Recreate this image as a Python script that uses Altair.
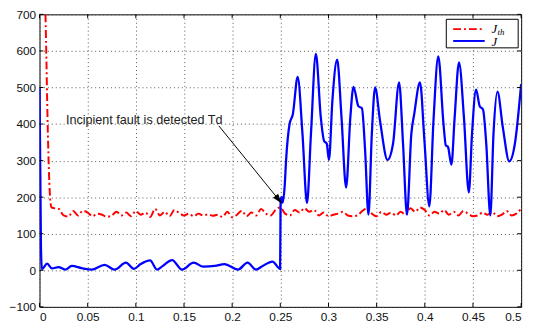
import altair as alt
import pandas as pd

# ---- data ----
jth_x = [0.0062, 0.0072, 0.0082, 0.0092, 0.0102, 0.0112, 0.0125,
         0.015, 0.02, 0.025, 0.03, 0.035, 0.04, 0.045, 0.05, 0.055, 0.06,
         0.065, 0.07, 0.075, 0.08, 0.085, 0.09, 0.095, 0.1, 0.105, 0.11,
         0.115, 0.12, 0.125, 0.13, 0.135, 0.14, 0.145, 0.15, 0.155, 0.16,
         0.165, 0.17, 0.175, 0.18, 0.185, 0.19, 0.195, 0.2, 0.205, 0.21,
         0.215, 0.22, 0.225, 0.23, 0.235, 0.24, 0.245, 0.25, 0.255, 0.26,
         0.265, 0.27, 0.275, 0.28, 0.285, 0.29, 0.295, 0.3, 0.305, 0.31,
         0.315, 0.32, 0.325, 0.33, 0.335, 0.34, 0.345, 0.35, 0.355, 0.36,
         0.365, 0.37, 0.375, 0.38, 0.385, 0.39, 0.395, 0.4, 0.405, 0.41,
         0.415, 0.42, 0.425, 0.43, 0.435, 0.44, 0.445, 0.45, 0.455, 0.46,
         0.465, 0.47, 0.475, 0.48, 0.485, 0.49, 0.495, 0.5]
jth_y = [700, 570, 430, 320, 240, 190, 172,
         170, 168, 150, 147, 162, 150, 163, 158, 148, 155,
         152, 146, 150, 160, 150, 158, 148, 162, 152, 158,
         146, 168, 150, 160, 148, 165, 157, 150, 155, 148,
         155, 150, 153, 149, 152, 146, 160, 145, 152, 163,
         148, 158, 150, 168, 155, 150, 165, 172, 155, 150,
         165, 158, 170, 160, 165, 150, 158, 148, 152, 155,
         160, 150, 148, 150, 162, 170, 155, 148, 160, 152,
         158, 150, 160, 152, 170, 160, 172, 165, 150, 160,
         155, 165, 152, 160, 150, 162, 155, 148, 150, 158,
         152, 160, 148, 152, 162, 150, 155, 168]

j_x = [0, 0.0015, 0.0025, 0.0079, 0.013, 0.0198, 0.0266, 0.0335, 0.0437,
       0.054, 0.0676, 0.078, 0.0898, 0.098, 0.105, 0.1148, 0.122, 0.127,
       0.1376, 0.148, 0.16, 0.17, 0.182, 0.192, 0.206, 0.216, 0.2247,
       0.2316, 0.2418, 0.2498, 0.2503, 0.2515, 0.2525, 0.2545, 0.256,
       0.2596, 0.263, 0.268, 0.273, 0.2777, 0.2818, 0.2869, 0.292, 0.2954,
       0.2982, 0.3005, 0.304, 0.309, 0.3135, 0.3183, 0.3227, 0.326, 0.331,
       0.3347, 0.338, 0.3415, 0.345, 0.3484, 0.3535, 0.3613, 0.367, 0.3733,
       0.3774, 0.3815, 0.386, 0.389, 0.395, 0.3996, 0.4047, 0.409, 0.414,
       0.4194, 0.4218, 0.424, 0.4276, 0.431, 0.4355, 0.4406, 0.4457, 0.449,
       0.4532, 0.457, 0.4604, 0.4638, 0.468, 0.4713, 0.4754, 0.481, 0.4877,
       0.4935, 0.5]
j_y = [500, 60, 3, 18, 5, 9, 2, 12, 6,
       2, 15, 2, 21, 4, 17, 27, 2, 10,
       28, 2, 21, 10, 12, 17, 2, 21, 2,
       12, 24, 4, 195, 200, 185, 230, 302,
       400, 427, 529, 373, 184, 373, 592, 419, 354,
       346, 302, 462, 576, 419, 226, 419, 502, 449,
       443, 329, 152, 373, 500, 409, 302, 346, 514,
       346, 152, 373, 427, 514, 355, 175, 409, 585,
       400, 342, 338, 289, 419, 569, 419, 213, 373,
       494, 449, 440, 346, 150, 373, 489, 391, 298,
       346, 509]

x_ticks = [0, 0.05, 0.1, 0.15, 0.2, 0.25, 0.3, 0.35, 0.4, 0.45, 0.5]
y_ticks = [-100, 0, 100, 200, 300, 400, 500, 600, 700]

annot_text = ["Incipient fault is detected Td"]
annot_pos = [0.0274, 411]
arrow_from = [0.1862, 395]
arrow_to = [0.2515, 183]

W, H = 489, 297

xs = alt.Scale(domain=[0, 0.5], nice=False, zero=False)
ys = alt.Scale(domain=[-100, 700], nice=False, zero=False)

lab = dict(labelFont="Liberation Sans", labelFontSize=12, labelColor="#111",
           grid=True, gridDash=[1, 3], gridColor="#555", gridWidth=1,
           ticks=False, domain=False, title=None)
xaxis = alt.Axis(values=x_ticks, format="~g", labelPadding=5, **lab)
yaxis = alt.Axis(values=y_ticks, format="d", labelPadding=4, **lab)


def X(f="t"):
    return alt.X(f + ":Q", scale=xs, axis=xaxis)


def Y(f="v"):
    return alt.Y(f + ":Q", scale=ys, axis=yaxis)


df_th = pd.DataFrame({"t": jth_x, "v": jth_y})
df_j = pd.DataFrame({"t": j_x, "v": j_y})
df_xt = pd.DataFrame({"t": x_ticks})
df_yt = pd.DataFrame({"v": y_ticks})
one = pd.DataFrame({"a": [0]})

red = alt.Chart(df_th).mark_line(
    color="#ff0000", strokeWidth=2, strokeDash=[8, 3, 2, 3],
    interpolate="monotone", clip=True
).encode(x=X(), y=Y())

blue = alt.Chart(df_j).mark_line(
    color="#0000ff", strokeWidth=2.3, interpolate="monotone", clip=True
).encode(x=X(), y=Y())

# inward ticks on all four sides
xt_b = alt.Chart(df_xt).mark_rule(color="black", strokeWidth=1).encode(
    x=X(), y=alt.value(H), y2=alt.value(H - 4))
xt_t = alt.Chart(df_xt).mark_rule(color="black", strokeWidth=1).encode(
    x=X(), y=alt.value(0), y2=alt.value(4))
yt_l = alt.Chart(df_yt).mark_rule(color="black", strokeWidth=1).encode(
    y=Y(), x=alt.value(0), x2=alt.value(4))
yt_r = alt.Chart(df_yt).mark_rule(color="black", strokeWidth=1).encode(
    y=Y(), x=alt.value(W), x2=alt.value(W - 4))

# annotation
df_ann = pd.DataFrame({"t": [annot_pos[0]], "v": [annot_pos[1]], "txt": annot_text})
ann = alt.Chart(df_ann).mark_text(
    align="left", baseline="middle", font="Liberation Sans", fontSize=12.8,
    color="#222"
).encode(x=X(), y=Y(), text="txt:N")

df_arr = pd.DataFrame({"t": [arrow_from[0]], "v": [arrow_from[1]],
                       "t2": [arrow_to[0]], "v2": [arrow_to[1]]})
arr_line = alt.Chart(df_arr).mark_rule(color="black", strokeWidth=1).encode(
    x=X(), y=Y(), x2="t2:Q", y2="v2:Q")
df_head = pd.DataFrame({"t": [arrow_to[0]], "v": [arrow_to[1]]})
arr_head = alt.Chart(df_head).mark_point(
    shape="M0,0 L-4,-1.3 L-4,1.3 Z", filled=True, color="black", size=25,
    angle=51, opacity=1
).encode(x=X(), y=Y())

# legend (drawn by hand, MATLAB style)
leg_box = alt.Chart(one).mark_rect(fill="white", stroke="black", strokeWidth=1).encode(
    x=alt.value(413), x2=alt.value(486), y=alt.value(5), y2=alt.value(34))
leg_red = alt.Chart(one).mark_rule(color="#ff0000", strokeWidth=2, strokeDash=[8, 3, 2, 3]).encode(
    x=alt.value(420), x2=alt.value(452), y=alt.value(15))
leg_blue = alt.Chart(one).mark_rule(color="#0000ff", strokeWidth=2).encode(
    x=alt.value(420), x2=alt.value(452), y=alt.value(27))
tstyle = dict(font="Liberation Serif", fontStyle="italic", color="black",
              align="left")
leg_j1 = alt.Chart(one).mark_text(fontSize=13, baseline="alphabetic", **tstyle).encode(
    x=alt.value(459), y=alt.value(19), text=alt.value("J"))
leg_th = alt.Chart(one).mark_text(fontSize=9, baseline="alphabetic", **tstyle).encode(
    x=alt.value(465), y=alt.value(21), text=alt.value("th"))
leg_j2 = alt.Chart(one).mark_text(fontSize=13, baseline="alphabetic", **tstyle).encode(
    x=alt.value(459), y=alt.value(32), text=alt.value("J"))

chart = alt.layer(
    red, blue, xt_b, xt_t, yt_l, yt_r, ann, arr_line, arr_head,
    leg_box, leg_red, leg_blue, leg_j1, leg_th, leg_j2
).properties(
    width=W, height=H,
    autosize=alt.AutoSizeParams(type="none"),
    padding={"left": 32, "top": 4, "right": 9, "bottom": 20},
    background="white"
).configure_view(stroke="black", strokeWidth=1)

chart.save("out.html", embed_options={"renderer": "svg", "actions": False})
